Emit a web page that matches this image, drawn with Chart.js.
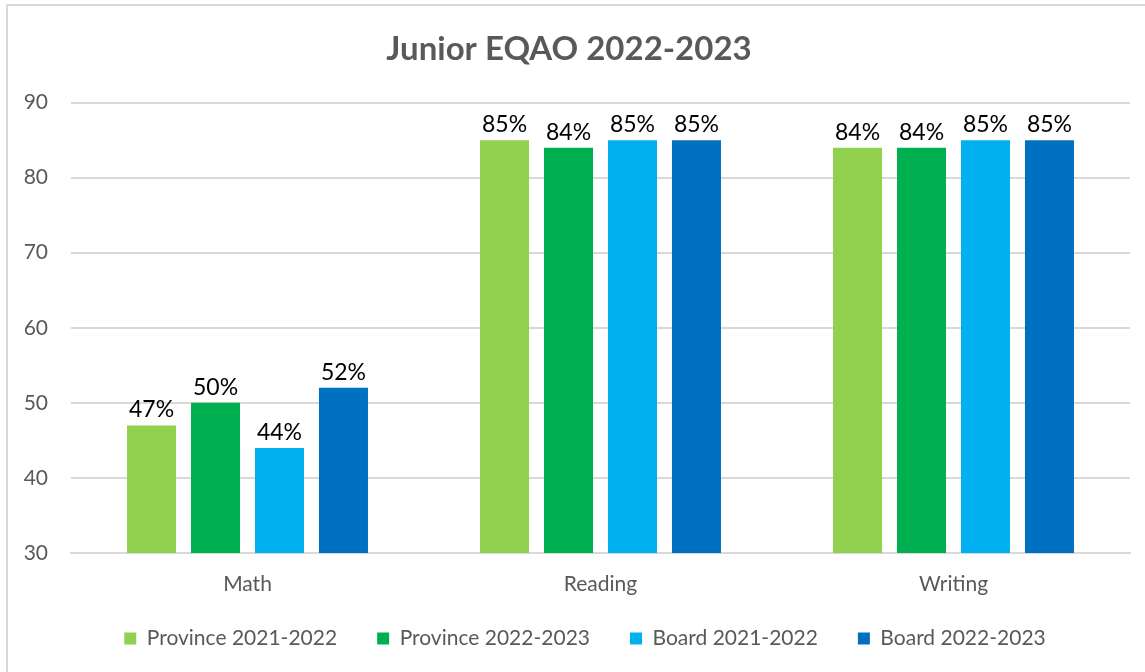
<!DOCTYPE html>
<html>
<head>
<meta charset="utf-8">
<script src="https://cdn.jsdelivr.net/npm/chart.js@4"></script>
<style>
  html, body { margin: 0; padding: 0; background: #fff; }
  #wrap { position: absolute; left: 6px; top: 4px; width: 1145px; height: 672px; border: 2px solid #d9d9d9; box-sizing: border-box; }
  #holder { position: absolute; left: 0; top: 0; width: 1145px; height: 672px; }
</style>
</head>
<body>
<div id="wrap"></div>
<div id="holder"><canvas id="chart" width="1145" height="672"></canvas></div>
<script>
// chart data
const categories = ['Math', 'Reading', 'Writing'];
const seriesNames = ['Province 2021-2022', 'Province 2022-2023', 'Board 2021-2022', 'Board 2022-2023'];
const province2122 = [47, 85, 84];
const province2223 = [50, 84, 84];
const board2122 = [44, 85, 85];
const board2223 = [52, 85, 85];
const yTicks = [30, 40, 50, 60, 70, 80, 90];

const colors = ['#92d050', '#00b050', '#00b0f0', '#0070c0'];
const FONT = 'Lato, "DejaVu Sans", sans-serif';
const GREY = '#595959';

// draws "NN%" above each bar
const barLabels = {
  id: 'barLabels',
  afterDatasetsDraw(chart) {
    const ctx = chart.ctx;
    ctx.save();
    ctx.font = '23px ' + FONT;
    ctx.fillStyle = '#000';
    ctx.textAlign = 'center';
    ctx.textBaseline = 'alphabetic';
    chart.data.datasets.forEach((ds, i) => {
      const meta = chart.getDatasetMeta(i);
      meta.data.forEach((bar, j) => {
        ctx.fillText(ds.data[j] + '%', bar.x, bar.y - 8);
      });
    });
    ctx.restore();
  }
};

// legend: keep 40px between items but take less height, nudge into place
const legendFit = {
  id: 'legendFit',
  beforeInit(chart) {
    const fit = chart.legend.fit;
    chart.legend.fit = function () {
      fit.call(this);
      this.height = 61;
    };
  },
  afterLayout(chart) {
    const lg = chart.legend;
    lg.top -= 11;
    lg.bottom -= 11;
    lg.left += 16;
    lg.right += 16;
  }
};

const ctx = document.getElementById('chart').getContext('2d');
const chart = new Chart(ctx, {
  type: 'bar',
  data: {
    labels: categories,
    datasets: [province2122, province2223, board2122, board2223].map((d, i) => ({
      label: seriesNames[i],
      data: d,
      backgroundColor: colors[i],
      categoryPercentage: 0.725,
      barPercentage: 0.766
    }))
  },
  options: {
    responsive: false,
    animation: false,
    layout: { padding: { left: 8, right: 15, top: 8, bottom: 12 } },
    scales: {
      x: {
        afterFit: s => { s.height = 46; },
        grid: { display: false },
        border: { color: '#d9d9d9', width: 2 },
        ticks: { color: GREY, font: { family: FONT, size: 21 }, padding: 11 }
      },
      y: {
        min: 30, max: 90,
        afterBuildTicks: s => { s.ticks = yTicks.map(v => ({ value: v })); },
        afterFit: s => { s.width = 63; },
        grid: { color: '#d9d9d9', lineWidth: 2, drawTicks: false },
        border: { display: false },
        ticks: { color: GREY, font: { family: FONT, size: 21 }, padding: 23 }
      }
    },
    plugins: {
      title: {
        display: true,
        text: 'Junior EQAO 2022-2023',
        color: GREY,
        font: { family: FONT, size: 33, weight: 'bold' },
        padding: { top: 22, bottom: 33 }
      },
      legend: {
        position: 'bottom',
        labels: {
          color: GREY,
          font: { family: FONT, size: 21 },
          boxWidth: 12,
          boxHeight: 12,
          padding: 40
        }
      },
      tooltip: { enabled: false }
    }
  },
  plugins: [barLabels, legendFit]
});
</script>
</body>
</html>
